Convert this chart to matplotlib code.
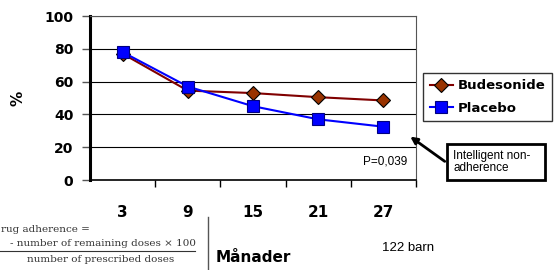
import matplotlib
matplotlib.use("Agg")
import matplotlib.pyplot as plt
from matplotlib.patches import Rectangle
from matplotlib.lines import Line2D

months = ["3", "9", "15", "21", "27"]
budesonide = [77, 54.5, 53, 50.5, 48.5]
placebo = [78, 57, 45, 37, 32.5]
yticks = [0, 20, 40, 60, 80, 100]

W, H = 554, 270
fig = plt.figure(figsize=(W / 100, H / 100), dpi=100)
ax = fig.add_axes([90 / W, 1 - 180 / H, (416 - 90) / W, (180 - 16) / H])

x = list(range(len(months)))
ax.plot(x, budesonide, color="#800000", lw=1.5, marker="D", ms=7,
        mfc="#993300", mec="black", mew=0.8, label="Budesonide", zorder=3)
ax.plot(x, placebo, color="#0000FF", lw=1.5, marker="s", ms=8,
        mfc="#0000FF", mec="#000080", mew=0.8, label="Placebo", zorder=4)

ax.set_xlim(-0.5, len(months) - 0.5)
ax.set_ylim(0, 100)
ax.set_yticks(yticks)
ax.set_yticklabels([str(v) for v in yticks], fontsize=10, fontweight="bold")
ax.set_xticks(x)
ax.set_xticklabels(months, fontsize=11, fontweight="bold")
ax.tick_params(axis="x", length=0, pad=18)
ax.set_xticks([i + 0.5 for i in range(len(months))], minor=True)
ax.tick_params(axis="x", which="minor", length=5, width=1, color="black", direction="out")
ax.tick_params(axis="y", length=6, width=1, color="#555555", direction="out", pad=6)
for y in yticks[1:]:
    ax.axhline(y, color="black", lw=0.8, zorder=1)
ax.spines["left"].set_linewidth(2.2)
ax.spines["left"].set_color("black")
ax.spines["bottom"].set_linewidth(1.2)
ax.spines["bottom"].set_color("black")
ax.spines["right"].set_color("#555555")
ax.spines["top"].set_color("#555555")
ax.spines["right"].set_linewidth(0.8)
ax.spines["top"].set_linewidth(0.8)

fig.text(18 / W, 1 - 98 / H, "%", rotation=90, fontsize=11, fontweight="bold",
         ha="center", va="center")

leg = ax.legend(loc="center left", bbox_to_anchor=(423 / W, 1 - 97 / H),
                bbox_transform=fig.transFigure, frameon=True, fancybox=False,
                edgecolor="black", prop={"weight": "bold", "size": 9.5},
                handlelength=1.8, handletextpad=0.3, borderpad=0.5, labelspacing=0.7,
                borderaxespad=0)
leg.get_frame().set_linewidth(1.0)

ax.text(407 / W, 1 - 162 / H, "P=0,039", transform=fig.transFigure,
        fontsize=8.5, ha="right", va="center", family="Liberation Sans")

# annotation box
fig.text(453 / W, 1 - 162 / H, "Intelligent non-\nadherence", fontsize=8.5,
         family="Liberation Sans", ha="left", va="center", linespacing=1.1)
fig.patches.append(Rectangle((447 / W, 1 - 180 / H), 98 / W, 36 / H,
                             transform=fig.transFigure, fill=False,
                             edgecolor="black", lw=2))
ax.annotate("", xy=(408 / W, 1 - 135 / H), xytext=(447 / W, 1 - 163 / H),
            xycoords="figure fraction", textcoords="figure fraction",
            arrowprops=dict(arrowstyle="-|>", color="black", lw=2,
                            mutation_scale=10), annotation_clip=False)

# formula panel (covers bottom of first tick labels)
fig.patches.append(Rectangle((0, 0), 205 / W, 1 - 217 / H,
                             transform=fig.transFigure, facecolor="white",
                             edgecolor="none", zorder=5))
fig.text(1 / W, 1 - 229 / H, "rug adherence =", fontsize=7.5, family="DejaVu Serif",
         color="#333333", ha="left", va="center", zorder=6)
fig.text(10 / W, 1 - 244 / H, "- number of remaining doses \u00d7 100", fontsize=7.5,
         family="DejaVu Serif", color="#333333", ha="left", va="center", zorder=6)
fig.lines.append(Line2D([0, 195 / W], [1 - 251 / H, 1 - 251 / H],
                        transform=fig.transFigure, color="#333333", lw=0.8, zorder=6))
fig.text(101 / W, 1 - 259 / H, "number of prescribed doses", fontsize=7.5,
         family="DejaVu Serif", color="#333333", ha="center", va="center", zorder=6)
fig.lines.append(Line2D([208 / W, 208 / W], [0, 1 - 217 / H],
                        transform=fig.transFigure, color="#555555", lw=1, zorder=6))

fig.text(216 / W, 1 - 257 / H, "M\u00e5nader", fontsize=11, fontweight="bold",
         ha="left", va="center")
fig.text(382 / W, 1 - 248 / H, "122 barn", fontsize=9.5, family="Liberation Sans",
         ha="left", va="center")

fig.savefig("out.png", dpi=100)
